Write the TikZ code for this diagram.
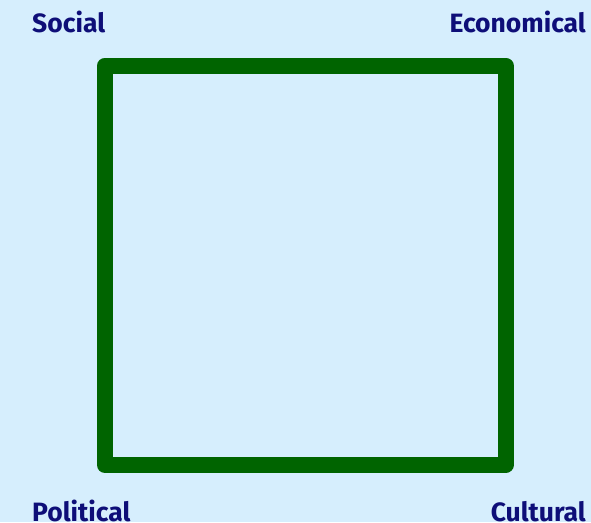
\documentclass[tikz,border=0pt]{standalone}
\usepackage{fontspec}
\setmainfont{Fira Sans}
\definecolor{bg}{HTML}{D6EEFD}
\definecolor{sqgreen}{HTML}{006400}
\definecolor{navytext}{HTML}{0E0E78}
\begin{document}
\begin{tikzpicture}[x=1pt,y=-1pt,
  lbl/.style={font=\bfseries\fontsize{26.5}{28}\selectfont, text=navytext, inner sep=0pt},
  frame/.style={draw=sqgreen, line width=16pt, line join=round}]
\fill[bg] (0,0) rectangle (591,522);
\useasboundingbox (0,0) rectangle (591,522);
\draw[frame] (105,65.5) rectangle (505.5,465);
\node[lbl, anchor=base west] (social) at (32,32) {Social};
\node[lbl, anchor=base east] (econ) at (586,32) {Economical};
\node[lbl, anchor=base west] (pol) at (32,521) {Political};
\node[lbl, anchor=base east] (cult) at (586,521) {Cultural};
\end{tikzpicture}
\end{document}
